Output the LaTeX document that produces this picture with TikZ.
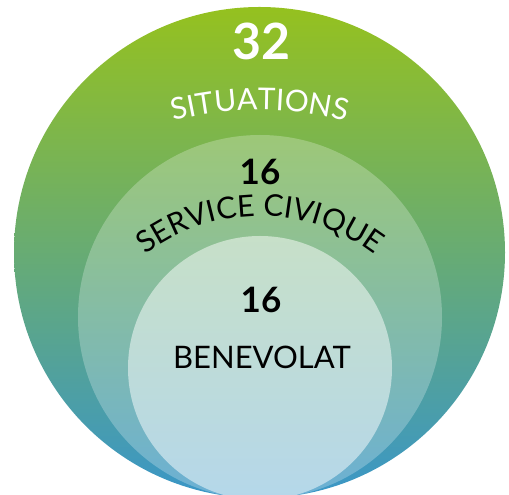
\documentclass[tikz,border=0pt]{standalone}
\usepackage{fontspec}
\setmainfont{Lato}
\usetikzlibrary{decorations.text}
\definecolor{gtop}{HTML}{95C11F}
\definecolor{gmid}{HTML}{69AB5E}
\definecolor{gbot}{HTML}{3A96C8}
\tikzset{
  disc/.style={draw=none},
  numlabel/.style={anchor=base, inner sep=0pt, font=\bfseries\fontsize{35}{35}\selectfont, text=black},
}
\begin{document}
\begin{tikzpicture}[x=1pt,y=1pt]
\useasboundingbox (0,0) rectangle (509,495);
% circles
\path[disc, top color=gtop, middle color=gmid, bottom color=gbot] (259.5,242.5) circle[radius=245.5];
\path[disc, fill=white, fill opacity=0.25] (260,178) circle[radius=182];
\path[disc, fill=white, fill opacity=0.5] (260,127) circle[radius=132];
% texts
\node[numlabel, text=white, font=\bfseries\fontsize{50}{50}\selectfont] (n32) at (261,435) {32};
\node[numlabel] (n16a) at (260,310) {16};
\node[numlabel] (n16b) at (261,182) {16};
\node[anchor=base, inner sep=0pt, font=\fontsize{31}{31}\selectfont] (bene) at (262,126) {BENEVOLAT};
\coordinate (arcc) at (260,38);
\coordinate (arcd) at (260,90);
\path[decorate, decoration={text along path, text align=center,
  text={|\fontsize{30}{30}\selectfont\color{white}|SITUATIONS}}]
  ([shift={(160:347)}]arcc) arc[start angle=160, end angle=20, radius=347];
\path[decorate, decoration={text along path, text align=center,
  text={|\fontsize{30}{30}\selectfont\color{black}|SERVICE CIVIQUE}}]
  ([shift={(175:189)}]arcd) arc[start angle=175, end angle=5, radius=189];
\end{tikzpicture}
\end{document}
